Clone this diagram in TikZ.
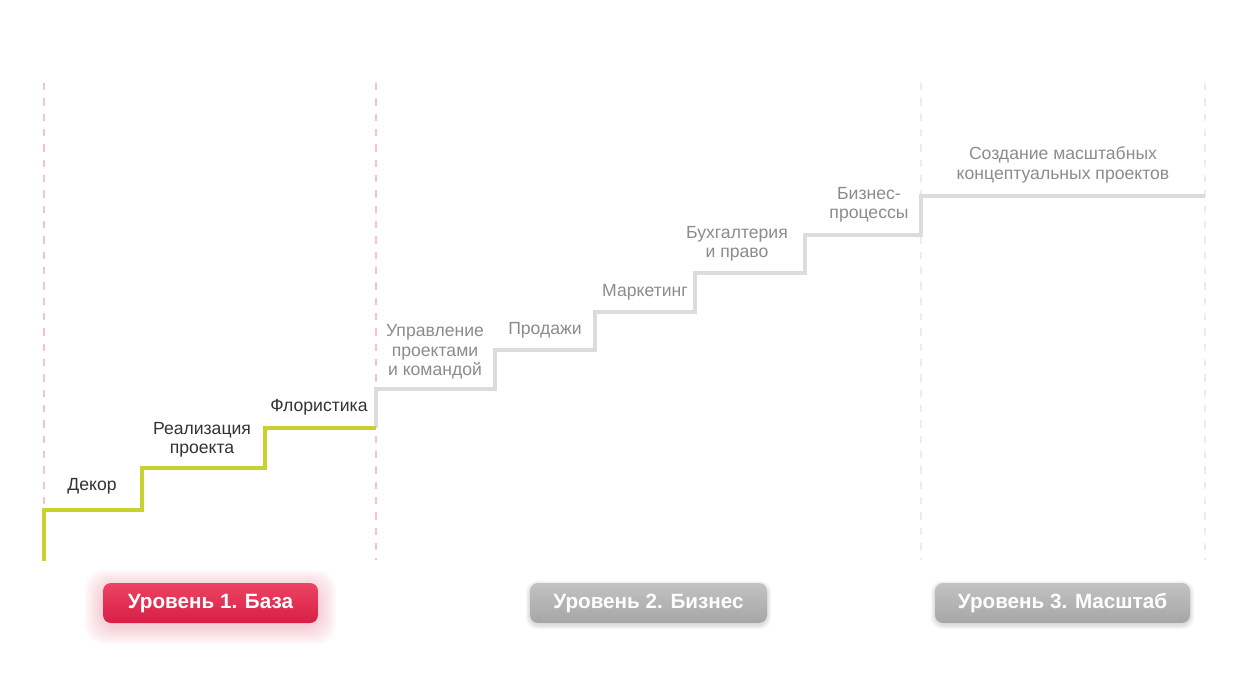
\documentclass[tikz,border=0pt]{standalone}
\usepackage{fontspec}
\setmainfont{Liberation Sans}
\usetikzlibrary{fadings}
\definecolor{lime}{HTML}{C9D12F}
\definecolor{stairgray}{HTML}{DCDCDC}
\definecolor{pinkdash}{HTML}{F3C3CF}
\definecolor{graydash}{HTML}{ECECEC}
\definecolor{labdark}{HTML}{333333}
\definecolor{labgray}{HTML}{8C8C8C}
\definecolor{redtop}{HTML}{EC4463}
\definecolor{redbot}{HTML}{D81E45}
\definecolor{graytop}{HTML}{C2C2C2}
\definecolor{graybot}{HTML}{A6A6A6}
\tikzset{
  guide/.style={line width=1.3pt, dash pattern=on 5.5pt off 6pt},
  stairY/.style={draw=lime, line width=2.3pt, line join=miter},
  stairG/.style={draw=stairgray, line width=2.3pt, line join=miter},
  lab/.style={font=\fontsize{13.2}{14.6}\selectfont, align=center, inner sep=0pt},
  labD/.style={lab, text=labdark},
  labG/.style={lab, text=labgray},
  btn/.style={inner sep=0pt, text=white, font=\fontsize{15.5}{16}\selectfont\bfseries},
  btnbox/.style={rounded corners=6pt},
}
\begin{document}
\begin{tikzpicture}[x=0.75pt,y=-0.75pt]
\useasboundingbox (0,0) rectangle (1258,690);
\fill[white] (0,0) rectangle (1258,690);
% guides
\coordinate (g1t) at (44,83); \coordinate (g1b) at (44,560);
\coordinate (g2t) at (376,83); \coordinate (g2b) at (376,560);
\coordinate (g3t) at (921,83); \coordinate (g3b) at (921,560);
\coordinate (g4t) at (1205,83); \coordinate (g4b) at (1205,560);
\draw[guide, draw=pinkdash] (g1t) -- (g1b);
\draw[guide, draw=pinkdash] (g2t) -- (g2b);
\draw[guide, draw=graydash] (g3t) -- (g3b);
\draw[guide, draw=graydash] (g4t) -- (g4b);
% gray stairs
\coordinate (s0) at (376,428);
\draw[stairG] (s0) |- (495,389) |- (595,350) |- (695,312) |- (805,273) |- (921,235) |- (1205,196);
% lime stairs
\coordinate (y0) at (44,561);
\draw[stairY] (y0) |- (142,510) |- (265,468) |- (s0);
% labels
\node[labD] (l1) at (92,486) {Декор};
\node[labD] (l2) at (202,440) {Реализация\\проекта};
\node[labD] (l3) at (319,407) {Флористика};
\node[labG] (l4) at (435,352) {Управление\\проектами\\и командой};
\node[labG] (l5) at (545,330) {Продажи};
\node[labG] (l6) at (645,292) {Маркетинг};
\node[labG] (l7) at (737,244) {Бухгалтерия\\и право};
\node[labG] (l8) at (869,205) {Бизнес-\\процессы};
\node[labG] (l9) at (1063,165) {Создание масштабных\\концептуальных проектов};
% red glow (soft)
\foreach \r in {18,16,...,2}{
  \fill[redbot, opacity=0.025, rounded corners=14pt] (103-\r,588-\r) rectangle (318+\r,626+\r);
}
% gray soft shadows
\foreach \r in {4,3,2,1}{
  \fill[black, opacity=0.03, rounded corners=8pt] (530-\r,585-\r) rectangle (767+\r,625+\r);
  \fill[black, opacity=0.03, rounded corners=8pt] (935-\r,585-\r) rectangle (1190+\r,625+\r);
}
% buttons
\shade[btnbox, top color=redtop, bottom color=redbot] (103,583) rectangle (318,623);
\node[btn] (b1) at (210.5,603.5) {Уровень 1. База};
\shade[btnbox, top color=graytop, bottom color=graybot] (530,583) rectangle (767,623);
\node[btn] (b2) at (648.5,603.5) {Уровень 2. Бизнес};
\shade[btnbox, top color=graytop, bottom color=graybot] (935,583) rectangle (1190,623);
\node[btn] (b3) at (1062.5,603.5) {Уровень 3. Масштаб};
\end{tikzpicture}
\end{document}
